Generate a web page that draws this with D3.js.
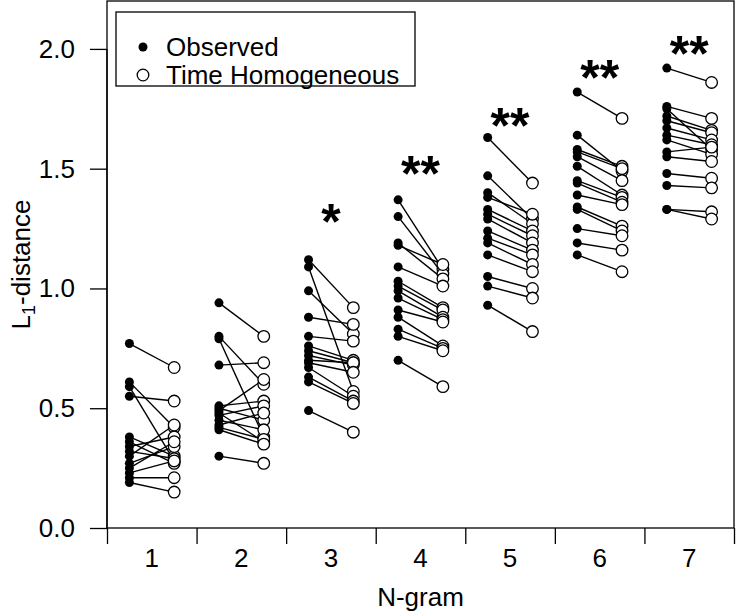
<!DOCTYPE html>
<html>
<head>
<meta charset="utf-8">
<script src="https://cdn.jsdelivr.net/npm/d3@7"></script>
<style>
  html, body { margin: 0; padding: 0; background: #fff; }
  svg { display: block; font-family: "Liberation Sans", Arial, sans-serif; }
</style>
</head>
<body>
<svg id="chart" width="736" height="614"></svg>
<script>
// ---- Data ----
const ngrams = [1, 2, 3, 4, 5, 6, 7];

const observed = [
  [0.77, 0.61, 0.59, 0.55, 0.38, 0.36, 0.34, 0.32, 0.30, 0.27, 0.25, 0.23, 0.21, 0.19],
  [0.94, 0.80, 0.79, 0.68, 0.51, 0.50, 0.49, 0.48, 0.47, 0.45, 0.43, 0.42, 0.41, 0.30],
  [1.12, 1.09, 0.99, 0.88, 0.80, 0.76, 0.74, 0.72, 0.70, 0.69, 0.67, 0.63, 0.61, 0.49],
  [1.37, 1.30, 1.19, 1.18, 1.09, 1.03, 1.01, 0.99, 0.96, 0.91, 0.88, 0.83, 0.80, 0.70],
  [1.63, 1.47, 1.40, 1.38, 1.33, 1.31, 1.29, 1.24, 1.21, 1.19, 1.14, 1.05, 1.01, 0.93],
  [1.82, 1.64, 1.58, 1.57, 1.55, 1.51, 1.45, 1.44, 1.39, 1.34, 1.33, 1.25, 1.19, 1.14],
  [1.92, 1.76, 1.75, 1.72, 1.70, 1.67, 1.64, 1.62, 1.57, 1.55, 1.48, 1.43, 1.33, 1.33]
];

const homogeneous = [
  [0.67, 0.42, 0.28, 0.53, 0.30, 0.27, 0.38, 0.29, 0.43, 0.34, 0.36, 0.28, 0.21, 0.15],
  [0.80, 0.60, 0.38, 0.69, 0.53, 0.45, 0.62, 0.36, 0.51, 0.41, 0.48, 0.37, 0.35, 0.27],
  [0.92, 0.57, 0.81, 0.85, 0.78, 0.70, 0.69, 0.68, 0.69, 0.65, 0.55, 0.53, 0.52, 0.40],
  [1.08, 1.06, 1.04, 1.10, 1.01, 0.92, 0.91, 0.88, 0.87, 0.86, 0.76, 0.75, 0.74, 0.59],
  [1.44, 1.29, 1.27, 1.31, 1.24, 1.22, 1.19, 1.16, 1.14, 1.10, 1.07, 1.00, 0.96, 0.82],
  [1.71, 1.49, 1.51, 1.50, 1.45, 1.39, 1.38, 1.36, 1.35, 1.26, 1.24, 1.22, 1.16, 1.07],
  [1.86, 1.71, 1.58, 1.66, 1.65, 1.62, 1.60, 1.56, 1.59, 1.53, 1.46, 1.42, 1.32, 1.29]
];

const stars = ["", "", "*", "**", "**", "**", "**"];
const starLevels = [null, null, 1.30, 1.50, 1.70, 1.90, 2.00];

const yTicks = [0.0, 0.5, 1.0, 1.5, 2.0];
const xBoundaries = [0.5, 1.5, 2.5, 3.5, 4.5, 5.5, 6.5, 7.5];
const legendLabels = ["Observed", "Time Homogeneous"];

// ---- Layout ----
const svg = d3.select("#chart");
const FONT = 26;
const x = d3.scaleLinear().domain([0.5, 7.5]).range([107, 734]);
const y = d3.scaleLinear().domain([0, 2.2]).range([528, 1]);
const offset = 0.25;

// plot box
svg.append("rect")
  .attr("x", x(0.5)).attr("y", y(2.2))
  .attr("width", x(7.5) - x(0.5)).attr("height", y(0) - y(2.2))
  .attr("fill", "none").attr("stroke", "#000").attr("stroke-width", 1.3);

// y axis
const yAxis = d3.axisLeft(y).tickValues(yTicks).tickFormat(d3.format(".1f"))
  .tickSize(17).tickPadding(15);
const gy = svg.append("g").attr("transform", `translate(${x(0.5)},0)`).call(yAxis);
gy.select(".domain").attr("d", `M-0,${y(0)}V${y(2.0)}`).attr("stroke-width", 1.3);
gy.selectAll(".tick line").attr("stroke-width", 1.3);
gy.selectAll(".tick text").attr("font-size", FONT).attr("font-family", "Liberation Sans, Arial, sans-serif").attr("fill", "#000");

// x axis: ticks at group boundaries, labels at group centers
const xAxis = d3.axisBottom(x).tickValues(xBoundaries).tickFormat("").tickSize(16).tickSizeOuter(0);
const gx = svg.append("g").attr("transform", `translate(0,${y(0)})`).call(xAxis);
gx.select(".domain").remove();
gx.selectAll(".tick line").attr("stroke-width", 1.3);
svg.append("g").selectAll("text").data(ngrams).join("text")
  .attr("x", d => x(d)).attr("y", 567)
  .attr("text-anchor", "middle").attr("font-size", FONT).text(d => d);

// axis titles
svg.append("text").attr("x", (x(0.5) + x(7.5)) / 2).attr("y", 606)
  .attr("text-anchor", "middle").attr("font-size", FONT).text("N-gram");

const yt = svg.append("text")
  .attr("transform", `translate(30,${(y(0) + y(2.2)) / 2}) rotate(-90)`)
  .attr("text-anchor", "middle").attr("font-size", FONT);
yt.append("tspan").text("L");
yt.append("tspan").attr("font-size", 18).attr("dy", 5).text("1");
yt.append("tspan").attr("dy", -5).text("-distance");

// pairs
const pairs = [];
ngrams.forEach((g, i) => {
  observed[i].forEach((v, j) => pairs.push({ g, obs: v, th: homogeneous[i][j] }));
});

svg.append("g").selectAll("line").data(pairs).join("line")
  .attr("x1", d => x(d.g - offset)).attr("y1", d => y(d.obs))
  .attr("x2", d => x(d.g + offset)).attr("y2", d => y(d.th))
  .attr("stroke", "#000").attr("stroke-width", 1.4);

svg.append("g").selectAll("circle").data(pairs).join("circle")
  .attr("cx", d => x(d.g - offset)).attr("cy", d => y(d.obs)).attr("r", 4.5)
  .attr("fill", "#000");

svg.append("g").selectAll("circle").data(pairs).join("circle")
  .attr("cx", d => x(d.g + offset)).attr("cy", d => y(d.th)).attr("r", 5.8)
  .attr("fill", "#fff").attr("stroke", "#000").attr("stroke-width", 1.3);

// significance stars
svg.append("g").selectAll("text").data(ngrams.filter((g, i) => stars[i])).join("text")
  .attr("x", d => x(d)).attr("y", d => y(starLevels[d - 1]) + 22)
  .attr("text-anchor", "middle").attr("font-size", 50).attr("font-weight", "bold")
  .text(d => stars[d - 1]);

// legend
const lg = svg.append("g");
lg.append("rect").attr("x", 116).attr("y", 12).attr("width", 299).attr("height", 74)
  .attr("fill", "#fff").attr("stroke", "#000").attr("stroke-width", 1.3);
lg.append("circle").attr("cx", 143).attr("cy", 47).attr("r", 4.5).attr("fill", "#000");
lg.append("circle").attr("cx", 143).attr("cy", 75).attr("r", 5.8)
  .attr("fill", "#fff").attr("stroke", "#000").attr("stroke-width", 1.3);
lg.selectAll("text").data(legendLabels).join("text")
  .attr("x", 166).attr("y", (d, i) => 47 + i * 28 + 9)
  .attr("font-size", FONT).text(d => d);
</script>
</body>
</html>
